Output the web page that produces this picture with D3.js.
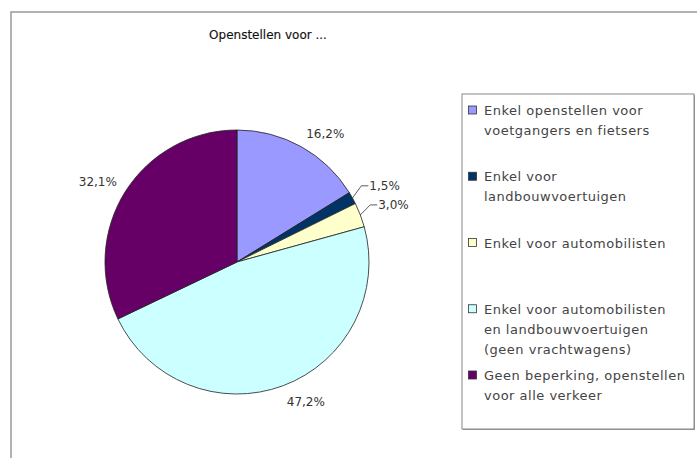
<!DOCTYPE html>
<html>
<head>
<meta charset="utf-8">
<script src="https://cdn.jsdelivr.net/npm/d3@7"></script>
<style>
  body{margin:0;background:#fff;}
  svg text{font-family:"DejaVu Sans",Verdana,sans-serif;}
</style>
</head>
<body>
<svg width="697" height="458"></svg>
<script>
var categories=["Enkel openstellen voor voetgangers en fietsers","Enkel voor landbouwvoertuigen","Enkel voor automobilisten","Enkel voor automobilisten en landbouwvoertuigen (geen vrachtwagens)","Geen beperking, openstellen voor alle verkeer"];
var legendLines=[["Enkel openstellen voor","voetgangers en fietsers"],["Enkel voor","landbouwvoertuigen"],["Enkel voor automobilisten"],["Enkel voor automobilisten","en landbouwvoertuigen","(geen vrachtwagens)"],["Geen beperking, openstellen","voor alle verkeer"]];
var percentages=[16.2,1.5,3.0,47.2,32.1];
var colors=["#9999ff","#003366","#ffffcc","#ccffff","#660066"];

var drawChart=function(){
  let svg=d3.select('svg');
  let center={x:237,y:262};
  let radius=132;

  // outer chart frame (runs off the picture on right/bottom)
  svg.append('rect')
    .attr('x',11).attr('y',12)
    .attr('width',720).attr('height',480)
    .attr('fill','#fff')
    .attr('stroke','#999').attr('stroke-width',1.5);

  svg.append('text')
    .attr('x',268).attr('y',39)
    .attr('text-anchor','middle')
    .attr('font-size',12)
    .attr('fill','#111')
    .attr('stroke','#111').attr('stroke-width',0.15)
    .text('Openstellen voor ...');

  let data=categories.map(function(c,i){return {key:c,value:percentages[i],color:colors[i]};});
  let pie=d3.pie().sort(null).value(function(d){return d.value;});
  let arcs=pie(data);
  let arc=d3.arc().innerRadius(0).outerRadius(radius);

  let plot=svg.append('g').attr('id','plot')
    .attr('transform','translate('+center.x+','+center.y+')');

  plot.selectAll('path.slice')
    .data(arcs)
    .enter().append('path')
    .attr('class','slice')
    .attr('d',arc)
    .attr('fill',function(d){return d.data.color;})
    .attr('stroke','#222')
    .attr('stroke-width',0.8);

  let pt=function(a,r){return [r*Math.sin(a),-r*Math.cos(a)];};

  arcs.forEach(function(d){
    let mid=(d.startAngle+d.endAngle)/2;
    let label=d3.format('.1f')(d.data.value).replace('.',',')+'%';
    let small=d.data.value<5;
    if(small){
      let p0=pt(mid,radius);
      let p1=pt(mid,radius+17);
      plot.append('path')
        .attr('d','M'+p0[0]+','+p0[1]+'L'+(p1[0]-6)+','+(p1[1]-4)+'L'+(p1[0]+1)+','+(p1[1]-4))
        .attr('fill','none').attr('stroke','#333').attr('stroke-width',0.8);
      plot.append('text')
        .attr('x',p1[0]+2).attr('y',p1[1])
        .attr('font-size',12).attr('fill','#333')
        .text(label);
    }else{
      let p=pt(mid,radius+10);
      let right=Math.sin(mid)>=0;
      let top=Math.cos(mid)>=0;
      plot.append('text')
        .attr('x',p[0]).attr('y',top?p[1]:p[1]+11)
        .attr('text-anchor',right?'start':'end')
        .attr('font-size',12).attr('fill','#333')
        .text(label);
    }
  });

  // legend
  let legend=svg.append('g').attr('id','legend');
  legend.append('rect')
    .attr('x',463).attr('y',95)
    .attr('width',232).attr('height',335)
    .attr('fill','#999');
  legend.append('rect')
    .attr('x',462).attr('y',94)
    .attr('width',232).attr('height',335)
    .attr('fill','#fff')
    .attr('stroke','#888').attr('stroke-width',1);

  let entryScale=d3.scaleLinear().domain([0,categories.length-1]).range([110,375]);
  let items=legend.selectAll('g.item')
    .data(data)
    .enter().append('g')
    .attr('class','item')
    .attr('transform',function(d,i){return 'translate(468,'+entryScale(i)+')';});
  items.append('rect')
    .attr('x',0.5).attr('y',-4)
    .attr('width',8).attr('height',8)
    .attr('fill',function(d){return d.color;})
    .attr('stroke','#333').attr('stroke-width',0.8);
  items.each(function(d,i){
    let t=d3.select(this).append('text')
      .attr('x',16).attr('y',5)
      .attr('font-size',13).attr('letter-spacing',0.5).attr('fill','#444');
    legendLines[i].forEach(function(line,j){
      t.append('tspan').attr('x',16).attr('dy',j===0?0:20).text(line);
    });
  });
};
drawChart();
</script>
</body>
</html>
